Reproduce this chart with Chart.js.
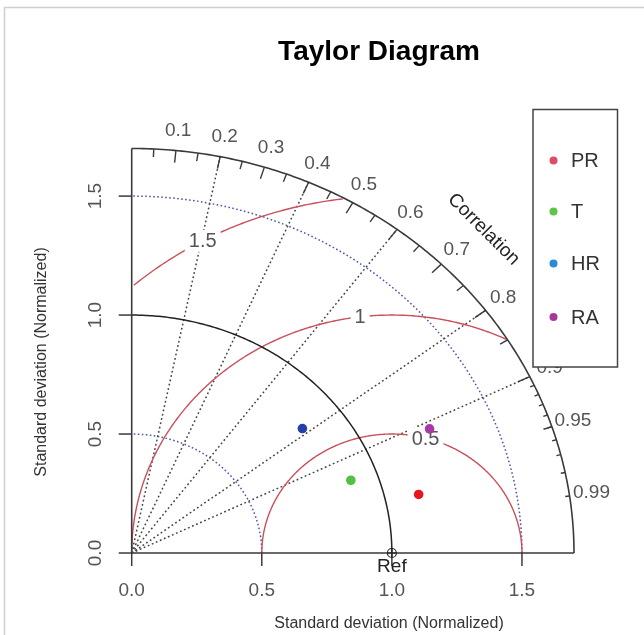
<!DOCTYPE html>
<html>
<head>
<meta charset="utf-8">
<script src="https://cdn.jsdelivr.net/npm/chart.js@4"></script>
<style>
html,body{margin:0;padding:0;background:#fff;}
#c{position:absolute;left:0;top:0;}
</style>
</head>
<body>
<canvas id="c" width="644" height="635"></canvas>
<script>
// ---- data ----
const seriesNames = ['PR', 'T', 'HR', 'RA'];
const stdDev = [1.130, 0.896, 0.839, 1.258];       // normalized standard deviation
const correlation = [0.976, 0.940, 0.782, 0.910];  // correlation with reference
const pointColors = ['#e8141e', '#52c043', '#2340a8', '#a83aa8'];
const legendColors = ['#e34a68', '#5cc64a', '#2a8ad6', '#a8379a'];
const axisTicks = [0.0, 0.5, 1.0, 1.5];
const axisTickLabels = ['0.0', '0.5', '1.0', '1.5'];
const corrLabels = [0.1, 0.2, 0.3, 0.4, 0.5, 0.6, 0.7, 0.8, 0.9, 0.95, 0.99];
const corrBigTicks = [0.1, 0.2, 0.3, 0.4, 0.5, 0.6, 0.7, 0.8, 0.9];
const corrMedTicks = [0.05, 0.15, 0.25, 0.35, 0.45, 0.55, 0.65, 0.75, 0.85, 0.95];
const corrSmallTicks = [0.91, 0.92, 0.93, 0.94, 0.95, 0.96, 0.97, 0.98, 0.99];
const corrLines = [0.2, 0.4, 0.6, 0.8, 0.9];
const sdGridArcs = [0.5, 1.5];
const refSd = 1.0;
const maxSd = 1.7;
const gammaValues = [0.5, 1, 1.5];
const gammaLabels = ['0.5', '1', '1.5'];
const gammaLabelAngles = [75, 97, 119]; // degrees around the reference point

const FONT = '"Liberation Sans", Arial, Helvetica, sans-serif';

const taylorPlugin = {
  id: 'taylor',
  beforeDatasetsDraw(chart) {
    const ctx = chart.ctx;
    const xs = chart.scales.x, ys = chart.scales.y;
    const px = v => xs.getPixelForValue(v);
    const py = v => ys.getPixelForValue(v);
    const polar = (r, c) => [px(r * c), py(r * Math.sqrt(Math.max(0, 1 - c * c)))];

    ctx.save();
    // outer frame (light gray)
    ctx.strokeStyle = '#cfcfcf';
    ctx.lineWidth = 1.5;
    ctx.beginPath();
    ctx.moveTo(4.5, 635); ctx.lineTo(4.5, 7.5); ctx.lineTo(644, 7.5);
    ctx.stroke();

    function arcPath(r, cx) {
      ctx.beginPath();
      const n = 180;
      for (let i = 0; i <= n; i++) {
        const t = (Math.PI / 2) * i / n;
        const x = cx + r * Math.cos(t), y = r * Math.sin(t);
        if (i === 0) ctx.moveTo(px(x), py(y)); else ctx.lineTo(px(x), py(y));
      }
    }

    // sd grid arcs (blue dotted)
    ctx.strokeStyle = '#4b58a6';
    ctx.lineWidth = 1.5;
    ctx.setLineDash([1.6, 2.4]);
    sdGridArcs.forEach(r => { arcPath(r, 0); ctx.stroke(); });

    // correlation lines (dark dotted)
    ctx.strokeStyle = '#444';
    ctx.lineWidth = 1.5;
    ctx.setLineDash([1.8, 2.6]);
    corrLines.forEach(c => {
      const [x1, y1] = polar(maxSd, c);
      ctx.beginPath(); ctx.moveTo(px(0), py(0)); ctx.lineTo(x1, y1); ctx.stroke();
    });
    ctx.setLineDash([]);

    // gamma (RMS) arcs
    ctx.strokeStyle = '#c9505a';
    ctx.lineWidth = 1.4;
    gammaValues.forEach(g => {
      ctx.beginPath();
      let drawing = false;
      const n = 400;
      for (let i = 0; i <= n; i++) {
        const t = Math.PI * i / n;
        const x = refSd + g * Math.cos(t), y = g * Math.sin(t);
        const ok = x >= 0 && (x * x + y * y) <= maxSd * maxSd;
        if (ok) {
          if (!drawing) { ctx.moveTo(px(x), py(y)); drawing = true; }
          else ctx.lineTo(px(x), py(y));
        } else drawing = false;
      }
      ctx.stroke();
    });

    // reference sd arc (black solid)
    ctx.strokeStyle = '#222';
    ctx.lineWidth = 1.5;
    arcPath(refSd, 0); ctx.stroke();

    // axes + outer arc
    ctx.strokeStyle = '#3a3a3a';
    ctx.lineWidth = 1.6;
    ctx.beginPath();
    ctx.moveTo(px(0), py(maxSd)); ctx.lineTo(px(0), py(0)); ctx.lineTo(px(maxSd), py(0));
    ctx.stroke();
    arcPath(maxSd, 0); ctx.stroke();

    // correlation ticks
    ctx.lineWidth = 1.4;
    const tick = (list, f) => list.forEach(c => {
      const [x1, y1] = polar(maxSd, c), [x2, y2] = polar(maxSd * f, c);
      ctx.beginPath(); ctx.moveTo(x1, y1); ctx.lineTo(x2, y2); ctx.stroke();
    });
    tick(corrBigTicks, 0.97);
    tick(corrMedTicks, 0.98);
    tick(corrSmallTicks, 0.99);

    // axis ticks
    ctx.lineWidth = 1.5;
    axisTicks.forEach(v => {
      ctx.beginPath(); ctx.moveTo(px(v), py(0)); ctx.lineTo(px(v), py(0) + 13); ctx.stroke();
      ctx.beginPath(); ctx.moveTo(px(0), py(v)); ctx.lineTo(px(0) - 13, py(v)); ctx.stroke();
    });

    // tick labels
    ctx.fillStyle = '#555';
    ctx.font = '19px ' + FONT;
    ctx.textAlign = 'center';
    ctx.textBaseline = 'middle';
    axisTicks.forEach((v, i) => {
      ctx.fillText(axisTickLabels[i], px(v), py(0) + 38);
      ctx.save();
      ctx.translate(px(0) - 36, py(v));
      ctx.rotate(-Math.PI / 2);
      ctx.fillText(axisTickLabels[i], 0, 0);
      ctx.restore();
    });

    // correlation labels
    ctx.font = '19px ' + FONT;
    corrLabels.forEach(c => {
      const [x, y] = polar(maxSd * 1.05, c);
      ctx.fillText(String(c), x, y);
    });
    ctx.save();
    ctx.fillStyle = '#222';
    ctx.font = '19px ' + FONT;
    ctx.translate(px(maxSd * 0.8) - 2, py(maxSd * 0.8));
    ctx.rotate(Math.PI / 4);
    ctx.fillText('Correlation', 0, 0);
    ctx.restore();

    // gamma labels with white boxes
    ctx.font = '20px ' + FONT;
    gammaValues.forEach((g, i) => {
      const a = gammaLabelAngles[i] * Math.PI / 180;
      const x = px(refSd + g * Math.cos(a)), y = py(g * Math.sin(a));
      const w = ctx.measureText(gammaLabels[i]).width;
      ctx.fillStyle = '#fff';
      ctx.fillRect(x - w / 2 - 4, y - 11, w + 8, 22);
      ctx.fillStyle = '#555';
      ctx.fillText(gammaLabels[i], x, y + 1);
    });

    // reference marker
    ctx.strokeStyle = '#222';
    ctx.lineWidth = 1.2;
    const rx = px(refSd), ry = py(0);
    ctx.beginPath(); ctx.arc(rx, ry, 4.5, 0, Math.PI * 2); ctx.stroke();
    ctx.beginPath(); ctx.moveTo(rx - 4.5, ry); ctx.lineTo(rx + 4.5, ry);
    ctx.moveTo(rx, ry - 4.5); ctx.lineTo(rx, ry + 4.5); ctx.stroke();
    ctx.fillStyle = '#222';
    ctx.font = '19px ' + FONT;
    ctx.fillText('Ref', rx, ry + 14);

    // titles
    ctx.fillStyle = '#000';
    ctx.font = 'bold 28px ' + FONT;
    ctx.fillText('Taylor Diagram', 379, 52);
    ctx.fillStyle = '#333';
    ctx.font = '16px ' + FONT;
    ctx.fillText('Standard deviation (Normalized)', 389, 624);
    ctx.save();
    ctx.translate(42, 362);
    ctx.rotate(-Math.PI / 2);
    ctx.fillText('Standard deviation (Normalized)', 0, 0);
    ctx.restore();
    ctx.restore();
  },
  afterDatasetsDraw(chart) {
    const ctx = chart.ctx;
    ctx.save();
    // legend box
    ctx.fillStyle = '#fff';
    ctx.fillRect(533, 109.5, 84.5, 257.5);
    ctx.strokeStyle = '#444';
    ctx.lineWidth = 1.5;
    ctx.strokeRect(533, 109.5, 84.5, 257.5);
    const rowY = [160.5, 211.5, 263.5, 317];
    ctx.font = '20px ' + FONT;
    ctx.textAlign = 'left';
    ctx.textBaseline = 'middle';
    seriesNames.forEach((n, i) => {
      ctx.fillStyle = legendColors[i];
      ctx.beginPath(); ctx.arc(553.5, rowY[i], 4, 0, Math.PI * 2); ctx.fill();
      ctx.fillStyle = '#333';
      ctx.fillText(n, 571, rowY[i] + 1);
    });
    ctx.restore();
  }
};

new Chart(document.getElementById('c'), {
  type: 'scatter',
  data: {
    datasets: seriesNames.map((n, i) => ({
      label: n,
      data: [{ x: stdDev[i] * correlation[i], y: stdDev[i] * Math.sqrt(1 - correlation[i] * correlation[i]) }],
      backgroundColor: pointColors[i],
      borderWidth: 0,
      pointRadius: 4.8,
      pointHoverRadius: 4.8
    }))
  },
  options: {
    responsive: false,
    animation: false,
    devicePixelRatio: 1,
    layout: { padding: { left: 131.7, right: 70, top: 148.5, bottom: 82 } },
    scales: {
      x: { type: 'linear', min: 0, max: 1.7, display: false },
      y: { type: 'linear', min: 0, max: 1.7, display: false }
    },
    plugins: { legend: { display: false }, title: { display: false }, tooltip: { enabled: false } },
    events: []
  },
  plugins: [taylorPlugin]
});
</script>
</body>
</html>
